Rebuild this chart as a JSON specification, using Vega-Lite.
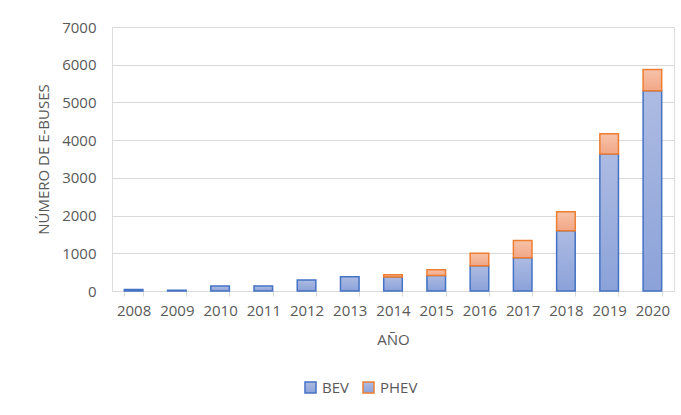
{
  "$schema": "https://vega.github.io/schema/vega-lite/v6.json",
  "width": 562,
  "height": 264,
  "autosize": {"type": "none"},
  "padding": {"left": 112, "top": 27, "right": 7, "bottom": 124},
  "background": "white",
  "data": {
    "values": [
      {"year": "2008", "series": "BEV", "value": 40},
      {"year": "2008", "series": "PHEV", "value": 0},
      {"year": "2009", "series": "BEV", "value": 20},
      {"year": "2009", "series": "PHEV", "value": 0},
      {"year": "2010", "series": "BEV", "value": 130},
      {"year": "2010", "series": "PHEV", "value": 0},
      {"year": "2011", "series": "BEV", "value": 130},
      {"year": "2011", "series": "PHEV", "value": 0},
      {"year": "2012", "series": "BEV", "value": 290},
      {"year": "2012", "series": "PHEV", "value": 0},
      {"year": "2013", "series": "BEV", "value": 380},
      {"year": "2013", "series": "PHEV", "value": 0},
      {"year": "2014", "series": "BEV", "value": 372},
      {"year": "2014", "series": "PHEV", "value": 60},
      {"year": "2015", "series": "BEV", "value": 410},
      {"year": "2015", "series": "PHEV", "value": 155},
      {"year": "2016", "series": "BEV", "value": 670},
      {"year": "2016", "series": "PHEV", "value": 330},
      {"year": "2017", "series": "BEV", "value": 880},
      {"year": "2017", "series": "PHEV", "value": 460},
      {"year": "2018", "series": "BEV", "value": 1600},
      {"year": "2018", "series": "PHEV", "value": 500},
      {"year": "2019", "series": "BEV", "value": 3630},
      {"year": "2019", "series": "PHEV", "value": 540},
      {"year": "2020", "series": "BEV", "value": 5310},
      {"year": "2020", "series": "PHEV", "value": 560}
    ]
  },
  "transform": [
    {"stack": "value", "groupby": ["year"], "sort": [{"field": "series", "order": "ascending"}], "as": ["v0", "v1"]}
  ],
  "encoding": {
    "x": {
      "field": "year",
      "type": "ordinal",
      "scale": {"paddingInner": 0.57, "paddingOuter": 0.285},
      "axis": {
        "title": "AÑO",
        "labelAngle": 0,
        "labelFont": "Open Sans",
        "labelFontSize": 15,
        "labelColor": "#595959",
        "labelPadding": 7,
        "titleFont": "Open Sans",
        "titleFontSize": 15,
        "titleFontWeight": "normal",
        "titleColor": "#595959",
        "titlePadding": 14,
        "domainColor": "#d9d9d9",
        "tickColor": "#d9d9d9",
        "tickSize": 5,
        "tickBand": "extent",
        "grid": false
      }
    },
    "y": {
      "field": "v1",
      "type": "quantitative",
      "scale": {"domain": [0, 7000], "nice": false},
      "axis": {
        "title": "NÚMERO DE E-BUSES",
        "values": [0, 1000, 2000, 3000, 4000, 5000, 6000, 7000],
        "format": "d",
        "labelFont": "Open Sans",
        "labelFontSize": 15,
        "labelColor": "#595959",
        "labelPadding": 16,
        "titleFont": "Open Sans",
        "titleFontSize": 15,
        "titleFontWeight": "normal",
        "titleColor": "#595959",
        "titlePadding": 10,
        "domain": false,
        "ticks": false,
        "gridColor": "#d9d9d9",
        "gridWidth": 1.2
      }
    },
    "y2": {"field": "v0"},
    "stroke": {
      "field": "series",
      "type": "nominal",
      "scale": {"domain": ["BEV", "PHEV"], "range": ["#4472c4", "#ed7d31"]},
      "legend": {
        "orient": "none",
        "direction": "horizontal",
        "legendX": 191,
        "legendY": 353,
        "title": null,
        "symbolType": "square",
        "symbolSize": 121,
        "symbolStrokeWidth": 1.5,
        "labelFont": "Open Sans",
        "labelFontSize": 15,
        "labelColor": "#595959",
        "labelOffset": 4,
        "columnPadding": 11,
        "encode": {
          "symbols": {
            "update": {
              "fill": {"signal": "datum.value === 'BEV' ? '#9eb0de' : '#f4b495'"},
              "fillOpacity": {"value": 1}
            }
          }
        }
      }
    }
  },
  "layer": [
    {
      "transform": [{"filter": "datum.series === 'BEV'"}],
      "mark": {
        "type": "bar",
        "strokeWidth": 1.5,
        "fill": {"gradient": "linear", "x1": 0, "y1": 0, "x2": 0, "y2": 1, "stops": [{"offset": 0, "color": "#adbbe2"}, {"offset": 1, "color": "#8ba2d9"}]}
      }
    },
    {
      "transform": [{"filter": "datum.series === 'PHEV' && datum.value > 0"}],
      "mark": {
        "type": "bar",
        "strokeWidth": 1.5,
        "fill": {"gradient": "linear", "x1": 0, "y1": 0, "x2": 0, "y2": 1, "stops": [{"offset": 0, "color": "#f7c2a8"}, {"offset": 1, "color": "#f2a787"}]}
      }
    }
  ]
}
